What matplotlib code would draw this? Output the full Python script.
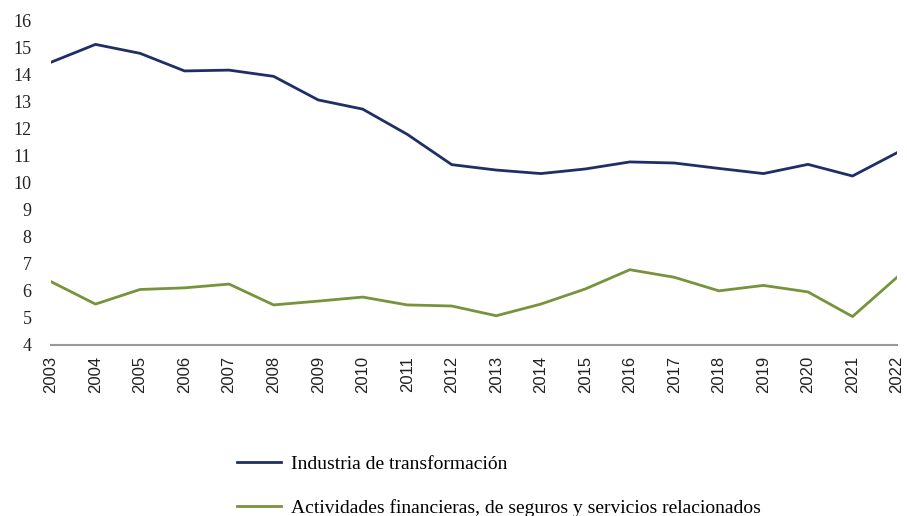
import matplotlib.pyplot as plt

# Data
years = list(range(2003, 2023))
industria = [14.44, 15.10, 14.77, 14.12, 14.15, 13.92, 13.05, 12.71, 11.78, 10.66,
             10.46, 10.33, 10.50, 10.76, 10.72, 10.52, 10.33, 10.67, 10.24, 11.10]
financieras = [6.34, 5.51, 6.05, 6.11, 6.25, 5.48, 5.62, 5.77, 5.48, 5.44,
               5.08, 5.51, 6.07, 6.78, 6.50, 6.00, 6.20, 5.96, 5.05, 6.50]
labels = ["Industria de transformación",
          "Actividades financieras, de seguros y servicios relacionados"]
y_ticks = list(range(4, 17))

blue = "#1f2f66"
green = "#77933c"

fig = plt.figure(figsize=(9.07, 5.16), dpi=100)
ax = fig.add_axes([0.0562, 0.3314, 0.9328, 0.6298])

ax.plot(years, industria, color=blue, linewidth=2, label=labels[0])
ax.plot(years, financieras, color=green, linewidth=2, label=labels[1])

ax.set_xlim(2003, 2022)
ax.set_ylim(4, 16)
ax.set_yticks(y_ticks)
ax.set_yticklabels([str(v) for v in y_ticks], fontfamily="Liberation Serif",
                   fontsize=13, color="#222222")
ax.set_xticks(years)
ax.set_xticklabels([str(y) for y in years], rotation=90, fontfamily="Liberation Sans",
                   fontsize=12, color="#222222")

for side in ["top", "right", "left"]:
    ax.spines[side].set_visible(False)
ax.spines["bottom"].set_color("#999999")
ax.spines["bottom"].set_linewidth(1.5)
ax.tick_params(axis="both", length=0)
ax.tick_params(axis="y", pad=14)
ax.tick_params(axis="x", pad=8)

fig.legend(loc="upper left", bbox_to_anchor=(0.261, 0.118), frameon=False,
           prop={"family": "Liberation Serif", "size": 14},
           handlelength=2.3, handletextpad=0.5, labelspacing=1.35,
           borderaxespad=0, borderpad=0)

fig.savefig("out.png", dpi=100)
